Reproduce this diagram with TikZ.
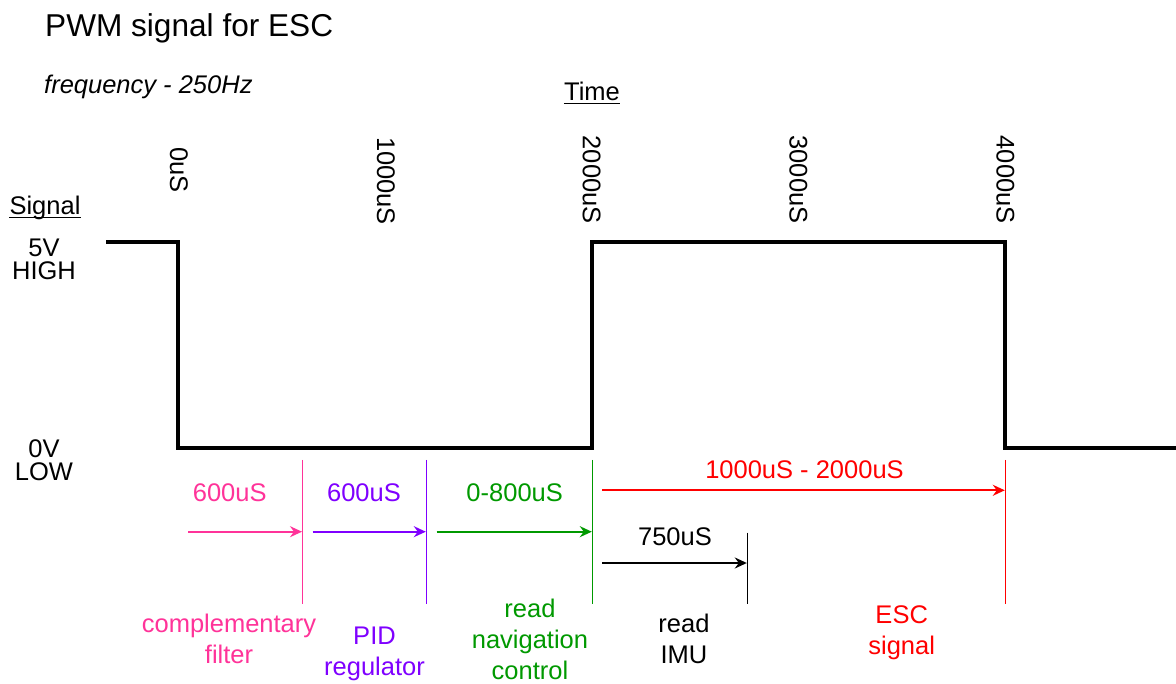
\documentclass[tikz,border=0pt]{standalone}
\usepackage{fontspec}
\setmainfont{Liberation Sans}
\usetikzlibrary{arrows.meta}
\definecolor{pinkc}{RGB}{255,51,153}
\definecolor{purplec}{RGB}{127,0,255}
\definecolor{greenc}{RGB}{0,153,0}
\definecolor{redc}{RGB}{255,0,0}
\newcommand{\lnstrut}{\rule[-5pt]{0pt}{23.5pt}}
\begin{document}
\begin{tikzpicture}[x=1pt,y=-1pt,
  lbl/.style={inner sep=0pt, font=\fontsize{25.5}{31}\selectfont},
  multi/.style={lbl, align=center, anchor=north},
  levellbl/.style={inner sep=0pt, align=center, anchor=north, font=\fontsize{25.5}{23}\selectfont},
  ticklbl/.style={lbl, rotate=-90, anchor=center},
  sigline/.style={line width=3.2pt, line join=miter},
  markline/.style={line width=1.2pt},
  uline/.style={line width=1.8pt},
  arr/.style={line width=1.8pt, -{Stealth[length=12pt,width=11pt,inset=4pt]}}
]
\useasboundingbox[fill=white] (0,0) rectangle (1176,684);

% titles
\node[anchor=base west, inner sep=0pt, font=\fontsize{31.6}{37}\selectfont] (title) at (45,37) {PWM signal for ESC};
\node[anchor=base west, inner sep=0pt, font=\fontsize{25.5}{31}\selectfont\itshape] (freq) at (44,94) {frequency - 250Hz};
\node[lbl, anchor=base] (time) at (592,101) {Time};
\draw[uline] ([yshift=-2.5pt]time.base west) -- ([yshift=-2.5pt]time.base east);
\node[lbl, anchor=base] (signal) at (45,215) {Signal};
\draw[uline] ([yshift=-2.5pt]signal.base west) -- ([yshift=-2.5pt]signal.base east);

% level labels
\node[levellbl] (high) at (44,238.7) {5V\\HIGH};
\node[levellbl] (low) at (44,439.7) {0V\\LOW};

% time ticks
\node[ticklbl] (t0) at (179,170) {0uS};
\node[ticklbl] (t1) at (386,181) {1000uS};
\node[ticklbl] (t2) at (591.7,179.7) {2000uS};
\node[ticklbl] (t3) at (798.5,179.5) {3000uS};
\node[ticklbl] (t4) at (1005.5,179.7) {4000uS};

% signal
\coordinate (s0) at (106,242);
\coordinate (s1) at (178,242);
\coordinate (s2) at (178,448);
\coordinate (s3) at (592,448);
\coordinate (s4) at (592,242);
\coordinate (s5) at (1005,242);
\coordinate (s6) at (1005,448);
\coordinate (s7) at (1176,448);
\draw[sigline] (s0) -- (s1) -- (s2) -- (s3) -- (s4) -- (s5) -- (s6) -- (s7);

% marker lines
\coordinate (pkT) at (302.7,460);  \coordinate (pkB) at (302.7,604);
\coordinate (puT) at (426.3,460);  \coordinate (puB) at (426.3,604);
\coordinate (grT) at (592.3,460);  \coordinate (grB) at (592.3,604);
\coordinate (bkT) at (747.3,532.7);\coordinate (bkB) at (747.3,604);
\coordinate (rdT) at (1005.3,460); \coordinate (rdB) at (1005.3,604);
\draw[markline, pinkc] (pkT) -- (pkB);
\draw[markline, purplec] (puT) -- (puB);
\draw[markline, greenc] (grT) -- (grB);
\draw[markline, black] (bkT) -- (bkB);
\draw[markline, redc] (rdT) -- (rdB);

% arrows
\coordinate (pkA) at (188.3,531.7); \coordinate (pkZ) at (302,531.7);
\coordinate (puA) at (312.7,531.7); \coordinate (puZ) at (425.8,531.7);
\coordinate (grA) at (436.7,531.7); \coordinate (grZ) at (591.8,531.7);
\coordinate (rdA) at (602,490.3);   \coordinate (rdZ) at (1004.8,490.3);
\coordinate (bkA) at (602,563);     \coordinate (bkZ) at (746.8,563);
\draw[arr, pinkc] (pkA) -- (pkZ);
\draw[arr, purplec] (puA) -- (puZ);
\draw[arr, greenc] (grA) -- (grZ);
\draw[arr, redc] (rdA) -- (rdZ);
\draw[arr, black] (bkA) -- (bkZ);

% duration labels
\node[lbl, anchor=base, text=pinkc] (d1) at (229.7,501) {600uS};
\node[lbl, anchor=base, text=purplec] (d2) at (364,501) {600uS};
\node[lbl, anchor=base, text=greenc] (d3) at (514.7,501) {0-800uS};
\node[lbl, anchor=base, text=redc] (d4) at (804.5,478.5) {1000uS - 2000uS};
\node[lbl, anchor=base, text=black] (d5) at (675,545.5) {750uS};

% task labels
\node[multi, text=pinkc] (comp) at (229,613.5) {\lnstrut complementary\\filter};
\node[multi, text=purplec] (pid) at (374.5,625.5) {\lnstrut PID\\regulator};
\node[multi, text=greenc] (nav) at (530,598.5) {\lnstrut read\\navigation\\control};
\node[multi, text=black] (imu) at (684,614) {\lnstrut read\\IMU};
\node[multi, text=redc] (esc) at (901.7,604.5) {\lnstrut ESC\\signal};
\end{tikzpicture}
\end{document}
